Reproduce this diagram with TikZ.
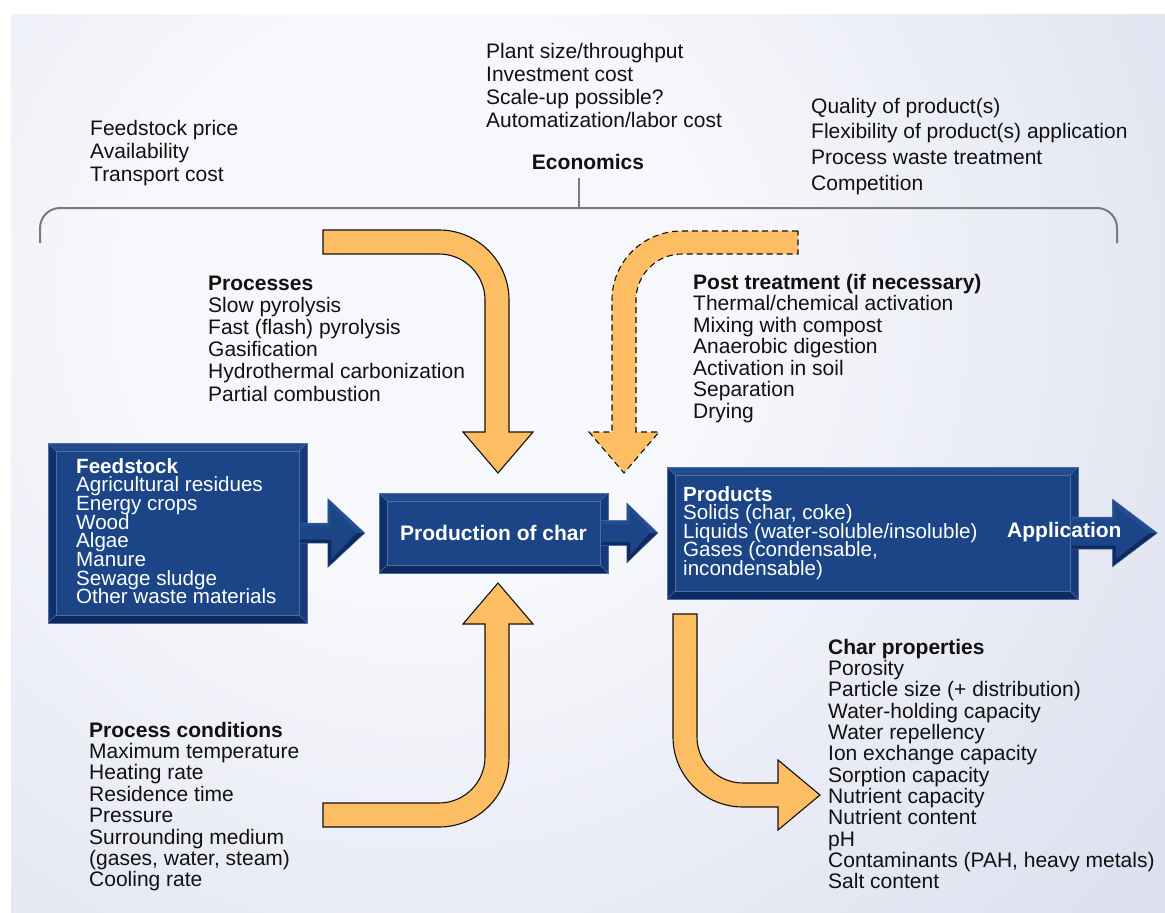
\documentclass[tikz,border=0pt]{standalone}
\usepackage{fontspec}
\setmainfont{Liberation Sans}
\usetikzlibrary{calc}
\definecolor{bgA}{HTML}{F7F8FC}
\definecolor{bgB}{HTML}{E6E8F3}
\definecolor{bgC}{HTML}{D3D7EA}
\definecolor{orng}{HTML}{FDBE63}
\definecolor{bvface}{HTML}{1B4586}
\definecolor{bvtop}{HTML}{214D8E}
\definecolor{bvleft}{HTML}{10306A}
\definecolor{bvbot}{HTML}{0E2A5E}
\definecolor{bvright}{HTML}{173B7A}
\definecolor{bvline}{HTML}{4D6DA3}
\definecolor{brk}{HTML}{7A7A7A}
\definecolor{ink}{HTML}{111111}
\pgfdeclareradialshading{bgshade}{\pgfpoint{0bp}{0bp}}{color(0bp)=(bgA); color(7.5bp)=(bgA); color(17.5bp)=(bgB); color(30bp)=(bgC); color(72bp)=(bgC)}
\newcommand\barrow[5]{%
 \fill[bvbot] let \p1=(#1),\p2=(#2) in (\x1,\y1+#3) -- (\x2-#5,\y1+#3) -- (\x2-#5,\y1+#4) -- (\x2,\y1) -- (\x2-#5,\y1-#4) -- (\x2-#5,\y1-#3) -- (\x1,\y1-#3) -- cycle;
 \fill[bvtop] let \p1=(#1),\p2=(#2) in (\x1,\y1+#3) -- (\x2-#5,\y1+#3) -- (\x2-#5,\y1+#4) -- (\x2,\y1) -- (\x1,\y1) -- cycle;
 \fill[bvface] let \p1=(#1),\p2=(#2) in (\x1,\y1+#3-3.5pt) -- (\x2-#5+3.5pt,\y1+#3-3.5pt) -- (\x2-#5+3.5pt,\y1+#4-8pt) -- (\x2-8pt,\y1) -- (\x2-#5+3.5pt,\y1-#4+8pt) -- (\x2-#5+3.5pt,\y1-#3+3.5pt) -- (\x1,\y1-#3+3.5pt) -- cycle;
 \draw[bvline, line width=0.5pt] let \p1=(#1),\p2=(#2) in (\x1,\y1+#3) -- (\x2-#5,\y1+#3) -- (\x2-#5,\y1+#4) -- (\x2,\y1) -- (\x2-#5,\y1-#4) -- (\x2-#5,\y1-#3) -- (\x1,\y1-#3);
}
\newcommand\tblock[6]{%
 \foreach \itm [count=\i] in {#6} {\node[#2] (#1\i) at (#3,{#4+(\i-1)*#5}) {\itm};}%
}
\tikzset{
 txt/.style={anchor=base west, inner sep=0pt, text=ink, font=\fontsize{21}{24}\selectfont},
 wtxt/.style={anchor=base west, inner sep=0pt, text=white, font=\fontsize{20.6}{24}\selectfont},
 oarrow/.style={fill=orng, draw=ink, line width=1.1pt, line join=miter},
 bevel/.style={draw=bvline, line width=0.5pt, fill=bvface, inner sep=0pt,
  path picture={
   \path (path picture bounding box.north west) coordinate (pNW)
         (path picture bounding box.north east) coordinate (pNE)
         (path picture bounding box.south west) coordinate (pSW)
         (path picture bounding box.south east) coordinate (pSE);
   \fill[bvtop] (pNW) -- (pNE) -- ([shift={(-8pt,-8pt)}]pNE) -- ([shift={(8pt,-8pt)}]pNW) -- cycle;
   \fill[bvbot] (pSW) -- (pSE) -- ([shift={(-8pt,8pt)}]pSE) -- ([shift={(8pt,8pt)}]pSW) -- cycle;
   \fill[bvleft] (pNW) -- ([shift={(8pt,-8pt)}]pNW) -- ([shift={(8pt,8pt)}]pSW) -- (pSW) -- cycle;
   \fill[bvright] (pNE) -- ([shift={(-8pt,-8pt)}]pNE) -- ([shift={(-8pt,8pt)}]pSE) -- (pSE) -- cycle;
   \draw[bvline, line width=0.5pt] ([shift={(8pt,-8pt)}]pNW) rectangle ([shift={(-8pt,8pt)}]pSE);
   \draw[bvline, line width=0.5pt] (pNW) -- ([shift={(8pt,-8pt)}]pNW) (pNE) -- ([shift={(-8pt,-8pt)}]pNE) (pSW) -- ([shift={(8pt,8pt)}]pSW) (pSE) -- ([shift={(-8pt,8pt)}]pSE);
  }}
}
\begin{document}
\begin{tikzpicture}[x=1pt,y=-1pt]
\useasboundingbox (0,0) rectangle (1165,913);
\fill[white] (0,0) rectangle (1165,913);
\begin{scope}
\clip (11,14) rectangle (1165,913);
\shade[shading=bgshade] (-580,-700) rectangle (1420,1300);
\end{scope}

% bracket
\draw[brk, line width=2pt, rounded corners=20pt] (40,243) -- (40,208) -- (1117,208) -- (1117,243);
\coordinate (tick) at (579,208);
\node[txt, anchor=base] (econ) at (588,169) {\textbf{Economics}};
\draw[brk, line width=2pt] (tick) -- (579,178);

% orange arrows
\filldraw[oarrow] (323,230) -- (439,230) .. controls (477.7,230) and (509,261.3) .. (509,300) -- (509,432) -- (533,432) -- (498,473) -- (463,432) -- (485,432) -- (485,300) .. controls (485,274.6) and (464.4,254) .. (439,254) -- (323,254) -- cycle;
\filldraw[oarrow, dash pattern=on 6pt off 4pt] (798,231) -- (682,231) .. controls (643.3,231) and (612,261.3) .. (612,300) -- (612,432) -- (589,432) -- (624,473) -- (659,432) -- (636,432) -- (636,300) .. controls (636,274.6) and (656.6,254) .. (682,254) -- (798,254) -- cycle;
\filldraw[oarrow] (323,827) -- (439,827) .. controls (477.7,827) and (509,795.7) .. (509,757) -- (509,624) -- (533,624) -- (498,583) -- (463,624) -- (485,624) -- (485,757) .. controls (485,782.4) and (464.4,803) .. (439,803) -- (323,803) -- cycle;
\filldraw[oarrow] (673,614) -- (697,614) -- (697,737) .. controls (697,762.4) and (717.6,783) .. (743,783) -- (778,783) -- (778,760) -- (820,795) -- (778,830) -- (778,807) -- (743,807) .. controls (704.3,807) and (673,775.7) .. (673,737) -- cycle;

% boxes
\node[bevel, minimum width=259pt, minimum height=180pt] (feed) at (177.5,533) {};
\node[bevel, minimum width=229pt, minimum height=80pt, text=white, font=\fontsize{21}{24}\selectfont\bfseries] (char) at (493.5,533) {Production of char};
\node[bevel, minimum width=411pt, minimum height=132pt] (prod) at (872.5,533) {};

% blue arrows
\coordinate (a1s) at ([xshift=-7pt]feed.east);
\coordinate (a1t) at ([xshift=-14pt]char.west);
\barrow{a1s}{a1t}{10pt}{34.5pt}{37pt}
\coordinate (a2s) at ([xshift=-7pt]char.east);
\coordinate (a2t) at ([xshift=-9pt]prod.west);
\barrow{a2s}{a2t}{12.5pt}{30pt}{31pt}
\coordinate (a3s) at ([xshift=-7pt]prod.east);
\coordinate (a3t) at ([xshift=79pt]prod.east);
\barrow{a3s}{a3t}{16pt}{34pt}{45pt}

% texts
\tblock{fp}{txt}{90}{135}{23}{Feedstock price,Availability,Transport cost}
\tblock{pl}{txt}{486}{58}{23.3}{Plant size/throughput,Investment cost,Scale-up possible?,Automatization/labor cost}
\tblock{qu}{txt}{811}{113}{25.7}{Quality of product(s),Flexibility of product(s) application,Process waste treatment,Competition}
\tblock{pr}{txt}{208}{290}{22.2}{{\textbf{Processes}},Slow pyrolysis,Fast (flash) pyrolysis,Gasification,Hydrothermal carbonization,Partial combustion}
\tblock{pt}{txt}{693}{289}{21.5}{{\textbf{Post treatment (if necessary)}},Thermal/chemical activation,Mixing with compost,Anaerobic digestion,Activation in soil,Separation,Drying}
\tblock{fs}{wtxt}{76}{473}{18.7}{{\textbf{Feedstock}},Agricultural residues,Energy crops,Wood,Algae,Manure,Sewage sludge,Other waste materials}
\tblock{pd}{wtxt}{683}{501}{18.5}{{\textbf{Products}},{Solids (char, coke)},Liquids (water-soluble/insoluble),{Gases (condensable,},incondensable)}
\node[wtxt, font=\fontsize{21}{24}\selectfont] (appl) at (1007,537) {\textbf{Application}};
\tblock{pc}{txt}{89}{737}{21.4}{{\textbf{Process conditions}},Maximum temperature,Heating rate,Residence time,Pressure,Surrounding medium,{(gases, water, steam)},Cooling rate}
\tblock{cp}{txt}{828}{654}{21.36}{{\textbf{Char properties}},Porosity,Particle size (+ distribution),Water-holding capacity,Water repellency,Ion exchange capacity,Sorption capacity,Nutrient capacity,Nutrient content,pH,{Contaminants (PAH, heavy metals)},Salt content}
\end{tikzpicture}
\end{document}
